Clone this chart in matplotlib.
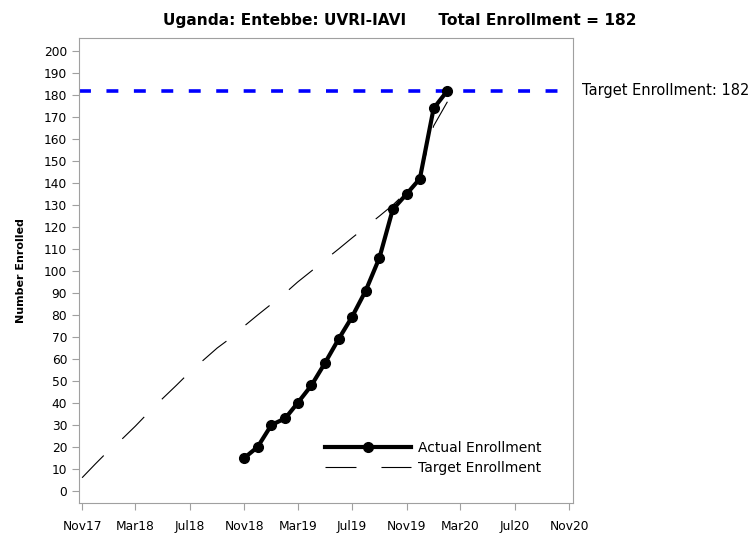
import matplotlib
matplotlib.use('Agg')
import matplotlib.pyplot as plt
import matplotlib.dates as mdates
from datetime import date

# actual enrollment, monthly (1st of month)
actual_dates = [date(2018, 11, 1), date(2018, 12, 1), date(2019, 1, 1), date(2019, 2, 1),
                date(2019, 3, 1), date(2019, 4, 1), date(2019, 5, 1), date(2019, 6, 1),
                date(2019, 7, 1), date(2019, 8, 1), date(2019, 9, 1), date(2019, 10, 1),
                date(2019, 11, 1), date(2019, 12, 1), date(2020, 1, 1), date(2020, 2, 1)]
actual_vals = [15, 20, 30, 33, 40, 48, 58, 69, 79, 91, 106, 128, 135, 142, 174, 182]

# target enrollment curve
target_dates = [date(2017, 11, 1), date(2017, 12, 1), date(2018, 1, 1), date(2018, 2, 1),
                date(2018, 3, 1), date(2018, 4, 1), date(2018, 5, 1), date(2018, 6, 1),
                date(2018, 7, 1), date(2018, 8, 1), date(2018, 9, 1), date(2018, 10, 1),
                date(2018, 11, 1), date(2018, 12, 1), date(2019, 1, 1), date(2019, 2, 1),
                date(2019, 3, 1), date(2019, 4, 1), date(2019, 5, 1), date(2019, 6, 1),
                date(2019, 7, 1), date(2019, 8, 1), date(2019, 9, 1), date(2019, 10, 1),
                date(2019, 11, 1), date(2019, 12, 1), date(2020, 1, 1), date(2020, 2, 1)]
target_vals = [6, 12.3, 18.6, 24, 29.5, 36, 42, 48, 54, 59.5, 65, 69.5,
               75, 80, 85, 90, 95, 100, 105, 110, 115, 120, 125, 130,
               136, 143, 166, 177]

target_total = 182
x_ticks = [date(2017, 11, 1), date(2018, 3, 1), date(2018, 7, 1), date(2018, 11, 1),
           date(2019, 3, 1), date(2019, 7, 1), date(2019, 11, 1), date(2020, 3, 1),
           date(2020, 7, 1), date(2020, 11, 1)]

fig = plt.figure(figsize=(7.53, 5.35), dpi=100)
ax = fig.add_axes([0.1049, 0.0598, 0.6557, 0.8692])

ax.axhline(target_total, color='#0000ff', lw=2.6, linestyle=(0, (3.3, 4.3)), zorder=2)

tlw = 0.8
ax.plot(target_dates, target_vals, color='black', lw=tlw,
        linestyle=(0, (22.3 / tlw, 18 / tlw)), label='Target Enrollment', zorder=3)
ax.plot(actual_dates, actual_vals, color='black', lw=3, marker='o', markersize=7,
        label='Actual Enrollment', zorder=4)

ax.set_xlim(date(2017, 10, 25), date(2020, 11, 9))
ax.set_ylim(-5.5, 206)
ax.set_yticks(range(0, 201, 10))
ax.set_xticks(x_ticks)
ax.xaxis.set_major_formatter(mdates.DateFormatter('%b%y'))

for s in ax.spines.values():
    s.set_color('#a0a0a0')
ax.tick_params(colors='#a0a0a0', labelcolor='black', labelsize=8.8, length=5)
ax.tick_params(axis='x', pad=7)

ax.set_ylabel('Number Enrolled', fontsize=8, fontweight='bold', labelpad=13)

ax.text(1.0195, target_total, 'Target Enrollment: %d' % target_total, transform=ax.get_yaxis_transform(),
        va='center', ha='left', fontsize=10.5)

fig.text(0.531, 0.961, 'Uganda: Entebbe: UVRI-IAVI      Total Enrollment = %d' % actual_vals[-1],
         ha='center', va='center', fontsize=11.1, fontweight='bold')

h, l = ax.get_legend_handles_labels()
ax.legend(h[::-1], l[::-1], loc='lower right', bbox_to_anchor=(0.962, 0.033), frameon=False,
          fontsize=10, handlelength=6.2, handletextpad=0.5, labelspacing=0.45)

fig.savefig('out.png', dpi=100)
